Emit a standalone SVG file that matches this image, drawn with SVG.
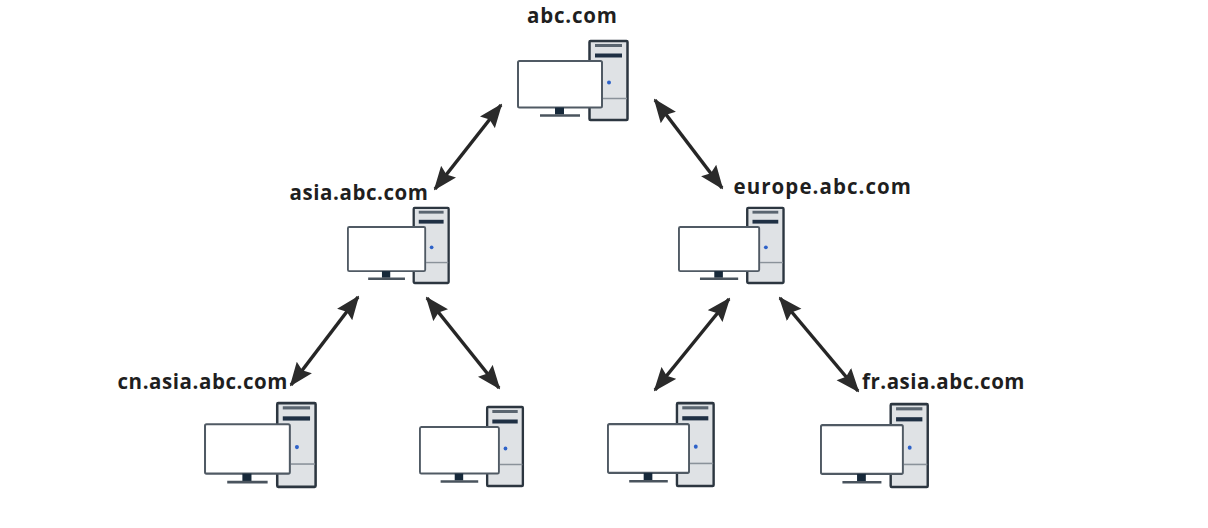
<svg xmlns="http://www.w3.org/2000/svg" width="1208" height="528" viewBox="0 0 1208 528">
  <style>
    .label { font-family: "Open Sans", "Liberation Sans", sans-serif; font-weight: 700; font-size: 20.500px; fill: #1f1f1f; }
    .link { stroke: #262626; stroke-width: 3.500; fill: none; marker-start: url(#head); marker-end: url(#head); }
    .tower { fill: #dfe2e5; stroke: #2c3640; stroke-width: 2.500; }
    .bay { stroke: #8a929a; stroke-width: 1.500; fill: none; }
    .slot1 { stroke: #5a6570; stroke-width: 3; }
    .slot2 { stroke: #1f3044; stroke-width: 4; }
    .screen { fill: #fff; stroke: #505a64; stroke-width: 2; }
    .neck { fill: #17293a; }
    .foot { stroke: #4a545e; stroke-width: 2.500; }
    .led { fill: #2e62c8; }
  </style>
  <defs>
    <marker id="head" viewBox="0 0 24 20" refX="22" refY="10" markerUnits="userSpaceOnUse" markerWidth="24" markerHeight="20" orient="auto-start-reverse">
      <path d="M0 0.500 L24 10 L0 19.500 L3.500 10 Z" fill="#2b2b2b"/>
    </marker>
    <g id="computer">
      <rect class="tower" x="72.500" y="1.500" width="38" height="79" rx="1"/>
      <line class="slot1" x1="78" y1="6" x2="105" y2="6"/>
      <line class="slot2" x1="78" y1="16" x2="105" y2="16"/>
      <line class="bay" x1="86" y1="59" x2="110" y2="59"/>
      <circle class="led" cx="92" cy="43" r="2"/>
      <rect class="screen" x="1" y="21.500" width="84" height="46.500" rx="1.500"/>
      <rect class="neck" x="38" y="68" width="9" height="7"/>
      <line class="foot" x1="23" y1="76" x2="63" y2="76"/>
    </g>
  </defs>

  <rect width="1208" height="528" fill="#fff"/>

  <g id="connectors">
    <line class="link" x1="501" y1="105" x2="435" y2="189"/>
    <line class="link" x1="655" y1="100" x2="722" y2="188"/>
    <line class="link" x1="358" y1="297" x2="291" y2="385"/>
    <line class="link" x1="427" y1="298" x2="499" y2="388"/>
    <line class="link" x1="729" y1="299" x2="655" y2="390"/>
    <line class="link" x1="780" y1="298" x2="858" y2="391"/>
  </g>

  <g id="abc">
    <use href="#computer" transform="translate(517 39.500)"/>
    <text class="label" x="527" y="23" textLength="90">abc.com</text>
  </g>
  <g id="asia">
    <use href="#computer" transform="translate(347 206.500) scale(0.92 0.95)"/>
    <text class="label" x="289.500" y="200" textLength="138.500">asia.abc.com</text>
  </g>
  <g id="europe">
    <use href="#computer" transform="translate(678 206.500) scale(0.955 0.95)"/>
    <text class="label" x="733.500" y="194" textLength="177.500">europe.abc.com</text>
  </g>
  <g id="cn">
    <use href="#computer" transform="translate(204 401.500) scale(1.01 1.06)"/>
    <text class="label" x="117.500" y="389" textLength="170">cn.asia.abc.com</text>
  </g>
  <g id="asia-second">
    <use href="#computer" transform="translate(419 405.500) scale(0.94 1)"/>
  </g>
  <g id="europe-first">
    <use href="#computer" transform="translate(607 401.500) scale(0.965 1.05)"/>
  </g>
  <g id="fr">
    <use href="#computer" transform="translate(820 402.500) scale(0.975 1.05)"/>
    <text class="label" x="862" y="389" textLength="162.500">fr.asia.abc.com</text>
  </g>
</svg>
